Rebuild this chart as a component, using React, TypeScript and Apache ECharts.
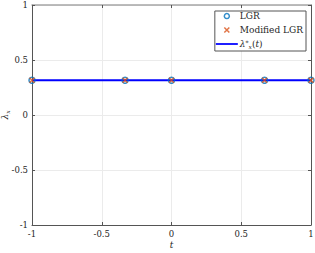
import React, { useEffect, useRef } from "react";
import * as echarts from "echarts";

const tValues = [-1, -0.333, 0, 0.667, 1];
const lgrValues = [0.316, 0.316, 0.316, 0.316, 0.316];
const modLgrValues = [0.316, 0.316, 0.316, 0.316, 0.316];
const lineT = [-1, 1];
const lineValues = [0.316, 0.316];
const xTicks = [-1, -0.5, 0, 0.5, 1];
const yTicks = [-1, -0.5, 0, 0.5, 1];

const FONT = "'DejaVu Serif', 'Liberation Serif', serif";
const AXIS_COLOR = "#555555";
const TEXT_COLOR = "#262626";

export default function App() {
  const ref = useRef<HTMLDivElement>(null);
  useEffect(() => {
    document.body.style.margin = "0";
    document.body.style.overflow = "hidden";
    if (!ref.current) return;
    const chart = echarts.init(ref.current, undefined, { renderer: "svg" });
    const lgr = tValues.map((t, i) => [t, lgrValues[i]]);
    const mod = tValues.map((t, i) => [t, modLgrValues[i]]);
    const line = lineT.map((t, i) => [t, lineValues[i]]);
    const fmt = (v: number) => (xTicks.includes(v) || yTicks.includes(v) ? String(v) : "");
    chart.setOption({
      animation: false,
      backgroundColor: "#ffffff",
      grid: { left: 32, top: 5, width: 279, height: 220, containLabel: false, outerBoundsMode: "none" },
      xAxis: [
        {
          type: "value",
          min: -1,
          max: 1,
          interval: 0.5,
          name: "t",
          nameLocation: "middle",
          nameGap: 15,
          nameMoveOverlap: false,
          nameTextStyle: { fontFamily: FONT, fontStyle: "italic", fontSize: 9, color: TEXT_COLOR },
          axisLine: { show: true, onZero: false, lineStyle: { color: AXIS_COLOR, width: 1 } },
          axisTick: { show: true, inside: true, length: 3, lineStyle: { color: AXIS_COLOR } },
          axisLabel: { fontFamily: FONT, fontSize: 8.5, color: TEXT_COLOR, margin: 4, formatter: fmt },
          splitLine: { show: true, lineStyle: { color: "#ebebeb", width: 1 } },
        },
        {
          type: "value",
          position: "top",
          min: -1,
          max: 1,
          interval: 0.5,
          axisLine: { show: true, onZero: false, lineStyle: { color: "#a6a6a6", width: 1.5 } },
          axisTick: { show: true, inside: true, length: 3, lineStyle: { color: AXIS_COLOR } },
          axisLabel: { show: false },
          splitLine: { show: false },
        },
      ],
      yAxis: [
        {
          type: "value",
          min: -1,
          max: 1,
          interval: 0.5,
          name: "{l|λ}{s|x}",
          nameLocation: "middle",
          nameGap: 22,
          nameMoveOverlap: false,
          nameRotate: 90,
          nameTextStyle: {
            fontFamily: FONT,
            color: TEXT_COLOR,
            rich: {
              l: { fontFamily: FONT, fontSize: 9, fontStyle: "italic", color: TEXT_COLOR },
              s: { fontFamily: FONT, fontSize: 6, fontStyle: "italic", color: TEXT_COLOR, padding: [4, 0, 0, 0] },
            },
          },
          axisLine: { show: true, onZero: false, lineStyle: { color: AXIS_COLOR, width: 1 } },
          axisTick: { show: true, inside: true, length: 3, lineStyle: { color: AXIS_COLOR } },
          axisLabel: { fontFamily: FONT, fontSize: 8.5, color: TEXT_COLOR, margin: 4, formatter: fmt },
          splitLine: { show: true, lineStyle: { color: "#ebebeb", width: 1 } },
        },
        {
          type: "value",
          position: "right",
          min: -1,
          max: 1,
          interval: 0.5,
          axisLine: { show: true, onZero: false, lineStyle: { color: AXIS_COLOR, width: 1 } },
          axisTick: { show: true, inside: true, length: 3, lineStyle: { color: AXIS_COLOR } },
          axisLabel: { show: false },
          splitLine: { show: false },
        },
      ],
      legend: {
        right: 9,
        top: 11,
        orient: "vertical",
        backgroundColor: "#ffffff",
        borderColor: "#555555",
        borderWidth: 1,
        borderRadius: 0,
        padding: [0, 3, 2, 1],
        itemGap: 4,
        itemWidth: 22,
        itemHeight: 5,
        textStyle: {
          fontFamily: FONT,
          fontSize: 9,
          lineHeight: 10,
          color: TEXT_COLOR,
          padding: [0, 0, 0, -3],
          rich: {
            a: { fontFamily: FONT, fontSize: 9, lineHeight: 10, color: TEXT_COLOR },
            i: { fontFamily: FONT, fontSize: 9, lineHeight: 10, fontStyle: "italic", color: TEXT_COLOR },
            sup: { fontFamily: FONT, fontSize: 6, lineHeight: 10, color: TEXT_COLOR, padding: [0, 0, 4, 0] },
            sub: { fontFamily: FONT, fontSize: 6, lineHeight: 10, fontStyle: "italic", color: TEXT_COLOR, padding: [4, 0, 0, 0] },
          },
        },
        data: [
          { name: "LGR", icon: "path://M5,0A5,5,0,1,1,4.99,0Z", itemStyle: { color: "transparent", borderColor: "#0072BD", borderWidth: 1.5 } },
          { name: "Modified LGR", icon: "path://M0,0L10,10M10,0L0,10", itemStyle: { color: "transparent", borderColor: "#D95319", borderWidth: 1.5 } },
          { name: "lambda", icon: "path://M0,0L100,0L100,8L0,8Z", itemStyle: { color: "#0000FF" } },
        ],
        formatter: (name: string) => {
          if (name === "lambda") return "{i|λ}{sup|*}{sub|x}{a|(}{i|t}{a|)}";
          return name;
        },
      },
      series: [
        {
          name: "lambda",
          type: "line",
          data: line,
          showSymbol: false,
          symbol: "none",
          lineStyle: { color: "#0000FF", width: 2 },
          itemStyle: { color: "#0000FF" },
          z: 2,
        },
        {
          name: "LGR",
          type: "scatter",
          data: lgr,
          symbol: "circle",
          symbolSize: 6,
          itemStyle: { color: "transparent", borderColor: "#0072BD", borderWidth: 1.5 },
          z: 3,
        },
        {
          name: "Modified LGR",
          type: "scatter",
          data: mod,
          symbol: "path://M0,0L10,10M10,0L0,10",
          symbolSize: 5,
          itemStyle: { color: "transparent", borderColor: "#D95319", borderWidth: 1.5 },
          z: 4,
        },
      ],
    });
    return () => chart.dispose();
  }, []);
  return <div ref={ref} style={{ width: 315, height: 253 }} />;
}
